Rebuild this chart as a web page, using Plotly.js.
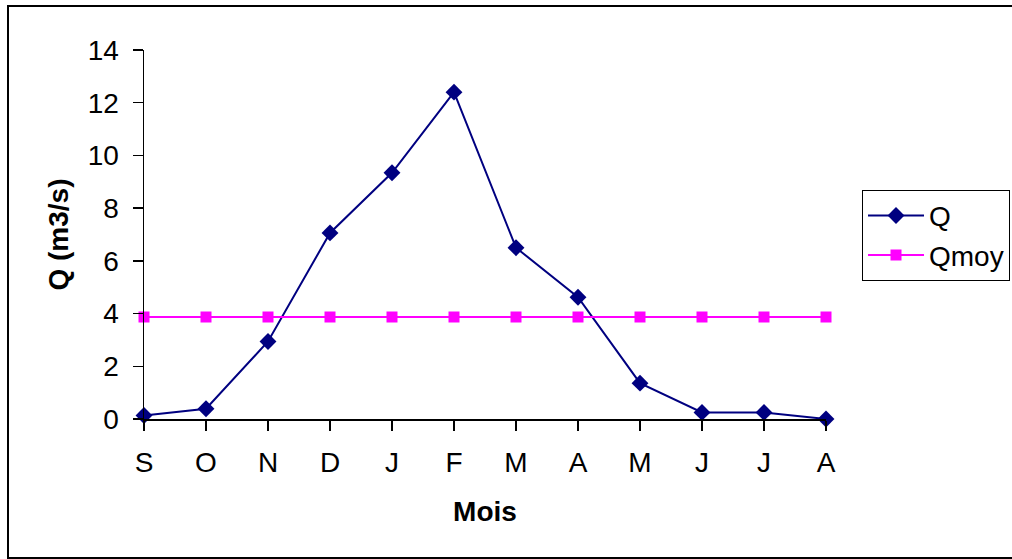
<!DOCTYPE html>
<html>
<head>
<meta charset="utf-8">
<script src="https://cdn.plot.ly/plotly-3.0.1.min.js"></script>
<style>
  html, body { margin: 0; padding: 0; background: #fff; }
  #chart { position: absolute; left: 0; top: 0; width: 1012px; height: 559px; }
  #frame { position: absolute; left: 7px; top: 5px; width: 1100px; height: 550px; border: 2px solid #000; pointer-events: none; }
</style>
</head>
<body>
<div id="chart"></div>
<div id="frame"></div>
<script>
const months = ["S", "O", "N", "D", "J", "F", "M", "A", "M", "J", "J", "A"];
const monthIndex = [0, 1, 2, 3, 4, 5, 6, 7, 8, 9, 10, 11];
const Q = [0.13, 0.39, 2.94, 7.06, 9.34, 12.40, 6.50, 4.62, 1.36, 0.25, 0.25, 0.0];
const Qmoy = [3.87, 3.87, 3.87, 3.87, 3.87, 3.87, 3.87, 3.87, 3.87, 3.87, 3.87, 3.87];
const yTicks = [0, 2, 4, 6, 8, 10, 12, 14];

const FONT = "Liberation Sans, Arial, sans-serif";

const traces = [
  {
    x: monthIndex, y: Q, name: "Q", type: "scatter", mode: "lines+markers",
    line: { color: "#000080", width: 2 },
    marker: { symbol: "diamond", size: 13, color: "#000080" },
    cliponaxis: false
  },
  {
    x: monthIndex, y: Qmoy, name: "Qmoy", type: "scatter", mode: "lines+markers",
    line: { color: "#FF00FF", width: 2 },
    marker: { symbol: "square", size: 11, color: "#FF00FF" },
    cliponaxis: false
  }
];

const layout = {
  width: 1012, height: 559,
  paper_bgcolor: "#fff", plot_bgcolor: "#fff",
  margin: { l: 144, r: 186, t: 50, b: 140, pad: 0, autoexpand: false },
  font: { family: FONT, size: 28, color: "#000" },
  showlegend: true,
  xaxis: {
    range: [0, 11], tickmode: "array", tickvals: monthIndex, ticktext: months,
    showgrid: false, zeroline: false, showline: true, linecolor: "#000", linewidth: 1.5,
    ticks: "outside", ticklen: 10, tickcolor: "#000", tickwidth: 1.5,
    ticklabelstandoff: 8, automargin: false,
    tickfont: { family: FONT, size: 28, color: "#000" },
    title: { text: "<b>Mois</b>", font: { family: FONT, size: 28, color: "#000" }, standoff: 24 }
  },
  yaxis: {
    range: [0, 14], tickmode: "array", tickvals: yTicks,
    showgrid: false, zeroline: false, showline: true, linecolor: "#000", linewidth: 1.5,
    ticks: "outside", ticklen: 10, tickcolor: "#000", tickwidth: 1.5,
    ticklabelstandoff: 8, automargin: false,
    tickfont: { family: FONT, size: 28, color: "#000" },
    title: { text: "<b>Q (m3/s)</b>", font: { family: FONT, size: 28, color: "#000" }, standoff: 11 }
  },
  legend: {
    x: 1.0528, xanchor: "left", y: 0.621, yanchor: "top",
    bgcolor: "#fff", bordercolor: "#000", borderwidth: 1,
    font: { family: FONT, size: 28, color: "#000" },
    itemwidth: 56, tracegroupgap: 0
  }
};

Plotly.newPlot("chart", traces, layout, { displayModeBar: false, staticPlot: true });
</script>
</body>
</html>
